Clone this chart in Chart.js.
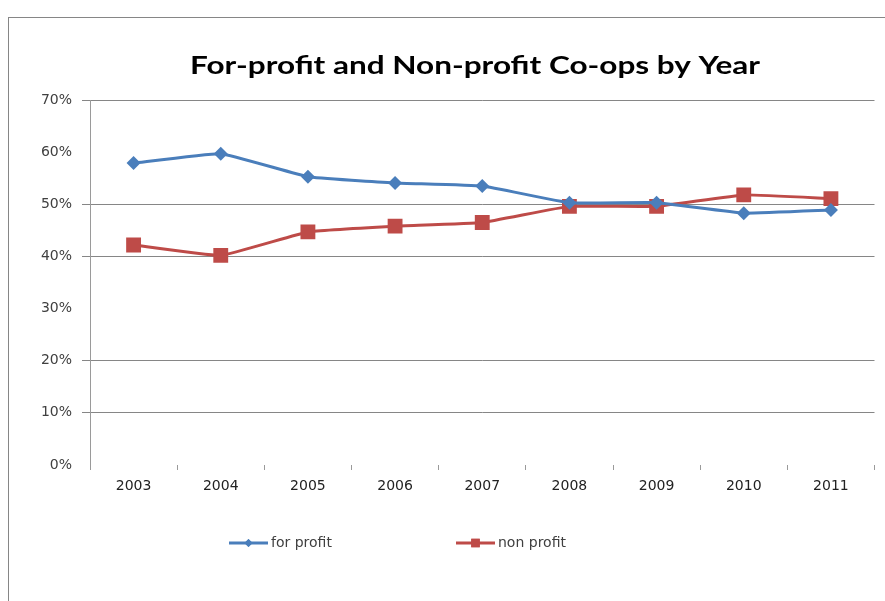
<!DOCTYPE html>
<html>
<head>
<meta charset="utf-8">
<script src="https://cdn.jsdelivr.net/npm/chart.js@4/dist/chart.umd.min.js"></script>
<style>
    body { margin: 0; background: #fff; }
    #marco {
        position: absolute; left: 8px; top: 17px;
        width: 876px; height: 583px;
        border-left: 1px solid #868686; border-top: 1px solid #868686;
    }
    #grafica { display: block; }
</style>
</head>
<body>
<div id="marco"><canvas id="grafica" width="876" height="583"></canvas></div>
<script>
const anios = ['2003', '2004', '2005', '2006', '2007', '2008', '2009', '2010', '2011'];
const conFines = [57.9, 59.7, 55.3, 54.1, 53.5, 50.3, 50.3, 48.3, 48.9];
const sinFines = [42.2, 40.2, 44.7, 45.8, 46.5, 49.6, 49.6, 51.8, 51.1];
const ticksY = [0, 10, 20, 30, 40, 50, 60, 70];
const lineasOcultas = [0, 30, 60];

const titulo = 'For-profit and Non-profit Co-ops by Year';
const azul = '#4A7EBB';
const rojo = '#BE4B48';
const fuente = 'DejaVu Sans';

const tituloYLeyenda = {
    id: 'tituloYLeyenda',
    afterDraw(chart) {
        const ctx = chart.ctx;
        ctx.save();
        // titulo: estirado a lo ancho como en el original
        ctx.fillStyle = '#000';
        ctx.font = 'bold 24px Lato';
        ctx.textAlign = 'center';
        ctx.textBaseline = 'alphabetic';
        const ancho = ctx.measureText(titulo).width;
        const sx = 570 / ancho;
        ctx.save();
        ctx.translate(466, 56);
        ctx.scale(sx, 1);
        ctx.fillText(titulo, 0, 0);
        ctx.restore();

        const items = [
            { x: 220, texto: chart.data.datasets[0].label, color: azul, forma: 'rectRot', r: 4 },
            { x: 447, texto: chart.data.datasets[1].label, color: rojo, forma: 'rect', r: 6 }
        ];
        const y = 525;
        ctx.textBaseline = 'middle';
        items.forEach(it => {
            ctx.strokeStyle = it.color;
            ctx.lineWidth = 3;
            ctx.beginPath();
            ctx.moveTo(it.x, y);
            ctx.lineTo(it.x + 39, y);
            ctx.stroke();
            ctx.fillStyle = it.color;
            Chart.helpers.drawPoint(ctx, { pointStyle: it.forma, radius: it.r, rotation: 0, borderWidth: 0 }, it.x + 19.5, y);
            ctx.fill();
            ctx.fillStyle = '#404040';
            ctx.font = '14px "' + fuente + '"';
            ctx.textAlign = 'left';
            ctx.fillText(it.texto, it.x + 42, y);
        });
        ctx.restore();
    }
};

const ctx = document.getElementById('grafica').getContext('2d');

new Chart(ctx, {
    type: 'line',
    data: {
        labels: anios,
        datasets: [
            {
                label: 'for profit',
                data: conFines,
                borderColor: azul,
                backgroundColor: azul,
                borderWidth: 3,
                pointStyle: 'rectRot',
                pointRadius: 7,
                pointBorderWidth: 0,
                tension: 0.1
            },
            {
                label: 'non profit',
                data: sinFines,
                borderColor: rojo,
                backgroundColor: rojo,
                borderWidth: 3,
                pointStyle: 'rect',
                pointRadius: 10.5,
                pointBorderWidth: 0,
                tension: 0.1
            }
        ]
    },
    options: {
        responsive: false,
        animation: false,
        layout: {
            padding: { top: 82, right: 10, bottom: 0, left: 0 }
        },
        plugins: {
            legend: { display: false },
            title: { display: false },
            tooltip: { enabled: false }
        },
        scales: {
            x: {
                offset: true,
                afterFit: scale => { scale.height = 136; },
                border: { display: false },
                grid: {
                    offset: true,
                    drawOnChartArea: false,
                    tickLength: 5,
                    color: '#9a9a9a'
                },
                ticks: {
                    padding: 8,
                    color: '#222',
                    font: { family: fuente, size: 14 }
                }
            },
            y: {
                min: 0,
                max: 70,
                afterFit: scale => { scale.width = 81; },
                afterBuildTicks: scale => {
                    scale.ticks = ticksY.map(v => ({ value: v }));
                },
                border: { display: true, color: '#9a9a9a' },
                grid: {
                    tickLength: 8,
                    color: c => lineasOcultas.includes(c.tick.value) ? 'rgba(0,0,0,0)' : '#868686'
                },
                ticks: {
                    padding: 10,
                    color: '#404040',
                    font: { family: fuente, size: 14 },
                    callback: v => v + '%'
                }
            }
        }
    },
    plugins: [tituloYLeyenda]
});
</script>
</body>
</html>
